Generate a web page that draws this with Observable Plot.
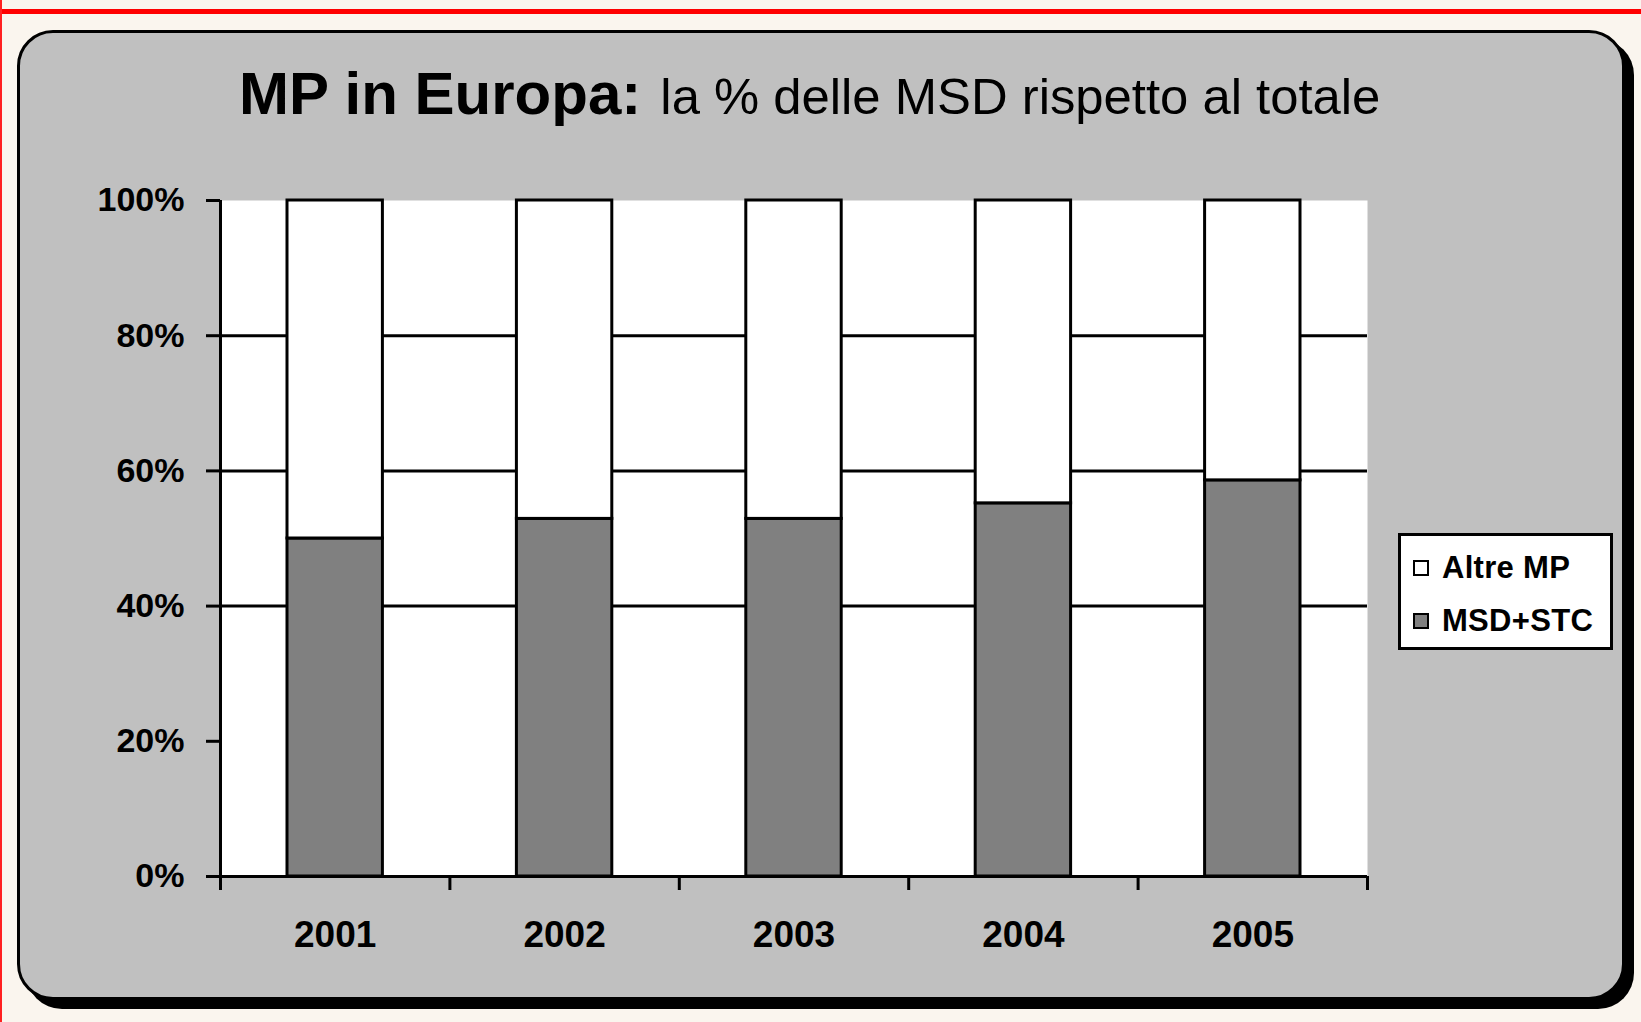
<!DOCTYPE html>
<html>
<head>
<meta charset="utf-8">
<script src="https://cdn.jsdelivr.net/npm/d3@7"></script>
<script src="https://cdn.jsdelivr.net/npm/@observablehq/plot@0.6"></script>
<style>
  html, body { margin: 0; padding: 0; }
  body {
    width: 1641px; height: 1022px; position: relative; overflow: hidden;
    background: #faf5ee; font-family: "Liberation Sans", Arial, sans-serif;
  }
  #redline { position: absolute; left: 0; top: 9px; width: 1641px; height: 5px; background: #ff0000; }
  #redleft { position: absolute; left: 0; top: 0; width: 2px; height: 1022px; background: #ff2020; }
  #panel {
    position: absolute; left: 17px; top: 30px; width: 1608px; height: 970px; box-sizing: border-box;
    background: #c0c0c0; border: 3px solid #000; border-radius: 36px;
    box-shadow: 9px 9px 0 #000; z-index: 0;
  }
  #chart { position: absolute; left: 0; top: 0; z-index: 1; }
  #title {
    position: absolute; left: 239px; top: 64px; white-space: nowrap; z-index: 2;
    line-height: 1; color: #000; font-family: "Liberation Sans", Arial, sans-serif;
  }
  #title .big { font-size: 60px; font-weight: bold; }
  #title .small { font-size: 50.8px; font-weight: normal; margin-left: 5px; }
  #legend {
    position: absolute; left: 1398px; top: 533px; width: 215px; height: 117px; box-sizing: border-box;
    background: #fff; border: 3px solid #000; z-index: 2;
    font-family: "Liberation Sans", Arial, sans-serif; font-weight: bold; font-size: 31px; color: #000;
  }
  .item { position: absolute; left: 12px; display: flex; align-items: center; white-space: nowrap; letter-spacing: 0.3px; }
  .sw { width: 12px; height: 12px; border: 2px solid #000; margin-right: 13px; }
</style>
</head>
<body>
<div id="redline"></div>
<div id="redleft"></div>
<div id="panel"></div>
<div id="title"><span class="big">MP in Europa:</span><span class="small"> la % delle MSD rispetto al totale</span></div>
<div id="chart"></div>
<div id="legend"></div>
<script>
// ---- data ----
const years = ["2001", "2002", "2003", "2004", "2005"];
const msdStc = [50.0, 52.9, 52.9, 55.2, 58.6];
const altreMp = [50.0, 47.1, 47.1, 44.8, 41.4];
const seriesNames = ["Altre MP", "MSD+STC"];
const seriesColors = ["#ffffff", "#808080"];
const yTicks = [0, 20, 40, 60, 80, 100];
const gridValues = [40, 60, 80];

// long table (MSD+STC first => bottom of stack)
const rows = [];
years.forEach((y, i) => {
  rows.push({year: y, serie: "MSD+STC", value: msdStc[i]});
  rows.push({year: y, serie: "Altre MP", value: altreMp[i]});
});

const W = 1641, H = 1022;
const mL = 220, mR = 274, mT = 200, mB = 146;
const plotW = W - mL - mR;
const plotH = H - mT - mB;
const bw = plotW / years.length;

const chart = Plot.plot({
  width: W, height: H,
  marginLeft: mL, marginRight: mR, marginTop: mT, marginBottom: mB,
  style: {background: "transparent", color: "#000", fontFamily: "Liberation Sans, Arial, sans-serif", fontWeight: "bold", fontSize: "34px", overflow: "visible"},
  x: {domain: years, padding: 0, round: false, label: null},
  y: {domain: [0, 100], label: null},
  color: {domain: seriesNames, range: seriesColors},
  marks: [
    Plot.frame({fill: "white", stroke: null}),
    Plot.ruleY(gridValues, {stroke: "#000", strokeWidth: 3}),
    Plot.barY(rows, {x: "year", y: "value", fill: "serie", stroke: "#000", strokeWidth: 3, insetLeft: 67, insetRight: 67}),
    Plot.ruleY([0], {stroke: "#000", strokeWidth: 3}),
    Plot.ruleX([years[0]], {dx: -bw / 2, stroke: "#000", strokeWidth: 3, insetBottom: -14}),
    Plot.ruleX(years.slice(1), {dx: -bw / 2, stroke: "#000", strokeWidth: 3, insetTop: plotH, insetBottom: -14}),
    Plot.ruleX([years[years.length - 1]], {dx: bw / 2, stroke: "#000", strokeWidth: 3, insetTop: plotH, insetBottom: -14}),
    Plot.axisY(yTicks, {tickSize: 14, tickPadding: 22, strokeWidth: 3, tickFormat: d => d + "%", fontSize: 34, fontWeight: "bold", label: null}),
    Plot.axisX({tickSize: 0, tickPadding: 44, fontSize: 37, fontWeight: "bold", label: null})
  ]
});
document.getElementById("chart").appendChild(chart);

// legend
const legend = document.getElementById("legend");
const legendTops = [14, 67];
seriesNames.forEach((name, i) => {
  const it = document.createElement("div");
  it.className = "item";
  it.style.top = legendTops[i] + "px";
  const sw = document.createElement("div");
  sw.className = "sw";
  sw.style.background = seriesColors[i];
  const tx = document.createElement("span");
  tx.textContent = name;
  it.appendChild(sw); it.appendChild(tx);
  legend.appendChild(it);
});
</script>
</body>
</html>
